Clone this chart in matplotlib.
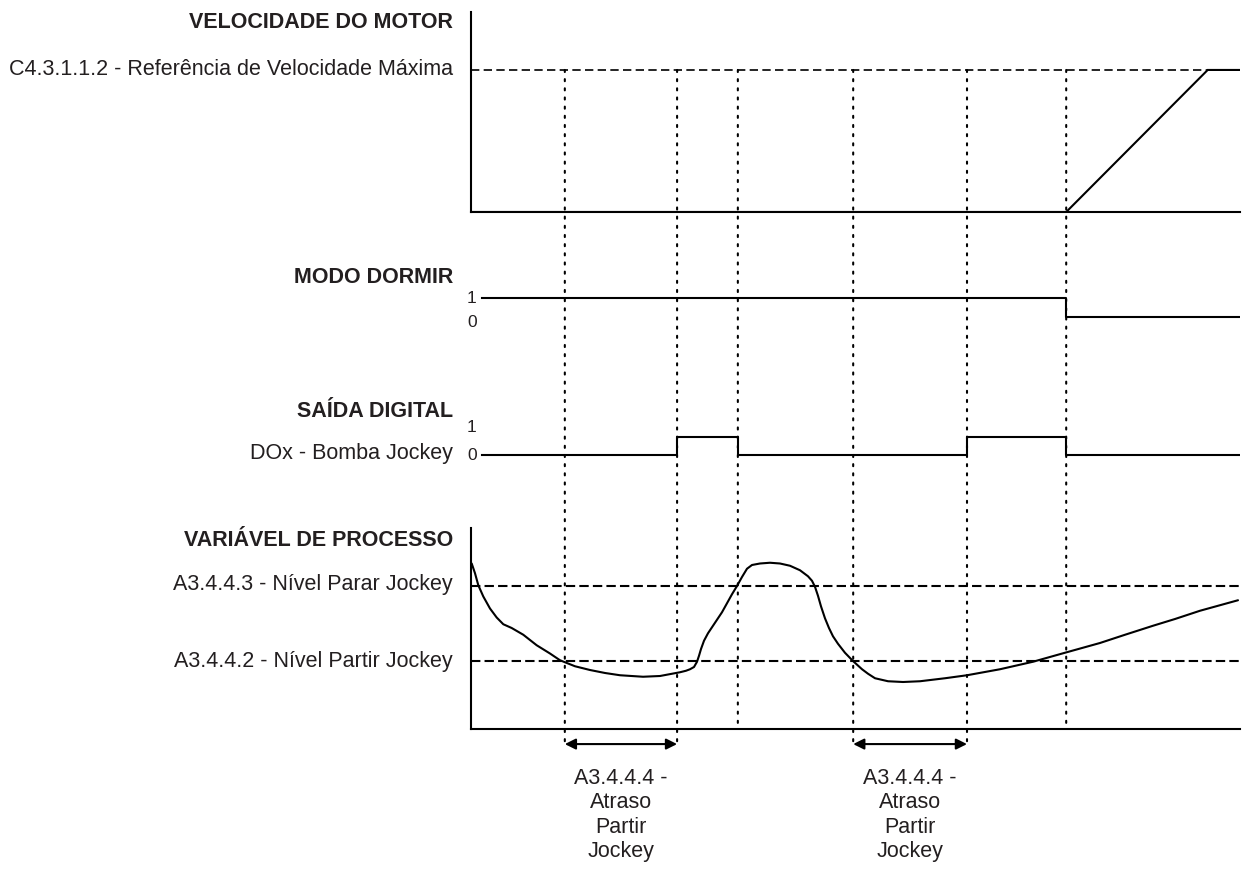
import matplotlib
matplotlib.use("Agg")
import matplotlib.pyplot as plt
from matplotlib.patches import ConnectionPatch

plt.rcParams['font.family'] = ['Liberation Sans', 'DejaVu Sans']

# ---- signals -------------------------------------------------------------
t_end = 100.0
event_times = [12.2, 26.8, 34.7, 49.7, 64.5, 77.4]
delay_windows = [(12.2, 26.8), (49.7, 64.5)]

motor_t = [0.0, 77.4, 95.8, 100.0]
motor_v = [0.0, 0.0, 1.0, 1.0]
motor_max_ref = 1.0

sleep_t = [1.4, 77.4, 100.0]
sleep_state = [1, 0, 0]

do_t = [1.4, 26.8, 34.7, 64.5, 77.4, 100.0]
do_state = [0, 1, 0, 1, 0, 0]

pv_t = [0.09, 0.52, 0.95, 1.60, 2.47, 3.34, 4.20, 5.29, 6.80, 8.54, 10.27,
        11.57, 13.52, 15.47, 17.43, 19.38, 22.37, 24.58, 26.14, 27.18, 27.96,
        28.48, 29.00, 29.39, 29.65, 29.91, 30.30, 30.82, 31.34, 31.99, 32.64,
        33.29, 33.94, 34.59, 35.24, 35.89, 36.54, 37.58, 38.88, 40.18, 41.48,
        42.78, 43.82, 44.34, 44.73, 45.12, 45.51, 46.03, 46.55, 47.07, 47.72,
        48.63, 49.67, 50.85, 51.63, 52.54, 54.23, 56.18, 58.39, 61.64, 64.50,
        68.79, 73.08, 77.24, 81.79, 85.05, 88.69, 91.55, 94.80, 99.74]
pv_v = [4.30, 4.17, 4.01, 3.86, 3.70, 3.58, 3.49, 3.44, 3.35, 3.21, 3.10,
        3.01, 2.93, 2.88, 2.84, 2.81, 2.79, 2.80, 2.83, 2.85, 2.87,
        2.89, 2.92, 2.99, 3.07, 3.16, 3.27, 3.37, 3.45, 3.55, 3.65,
        3.77, 3.89, 4.00, 4.12, 4.23, 4.28, 4.30, 4.31, 4.30, 4.27,
        4.21, 4.13, 4.07, 3.99, 3.87, 3.73, 3.57, 3.44, 3.33, 3.23,
        3.11, 3.00, 2.89, 2.83, 2.77, 2.73, 2.72, 2.73, 2.77, 2.81,
        2.89, 2.99, 3.11, 3.24, 3.35, 3.47, 3.56, 3.67, 3.81]
pv_stop_level = 4.0
pv_start_level = 3.0

# ---- texts ---------------------------------------------------------------
title_motor = "VELOCIDADE DO MOTOR"
label_motor_ref = "C4.3.1.1.2 - Referência de Velocidade Máxima"
title_sleep = "MODO DORMIR"
title_do = "SAÍDA DIGITAL"
label_do = "DOx - Bomba Jockey"
title_pv = "VARIÁVEL DE PROCESSO"
label_pv_stop = "A3.4.4.3 - Nível Parar Jockey"
label_pv_start = "A3.4.4.2 - Nível Partir Jockey"
delay_text = "A3.4.4.4 -\nAtraso\nPartir\nJockey"
state_labels = ["1", "0"]

# ---- layout --------------------------------------------------------------
W, H = 1246, 869
fig = plt.figure(figsize=(W / 100, H / 100), dpi=100)
fig.patch.set_facecolor("white")

X0, X1 = 471, 1240
TXT = "#231f20"
FS = 15.5
FS_SMALL = 12.5
LW = 1.5


def add_track(top, bottom, ylim):
    ax = fig.add_axes([X0 / W, 1 - bottom / H, (X1 - X0) / W, (bottom - top) / H])
    ax.set_xlim(0, t_end)
    ax.set_ylim(*ylim)
    ax.set_xticks([])
    ax.set_yticks([])
    for s in ax.spines.values():
        s.set_visible(False)
    ax.patch.set_alpha(0)
    return ax


ax_m = add_track(12, 212, (0.0, 1.408))
ax_s = add_track(280, 330, (-0.684, 1.947))
ax_d = add_track(420, 470, (-0.833, 1.944))
ax_p = add_track(528, 729, (2.0933, 4.7733))

for ax in (ax_m, ax_p):
    for side in ("left", "bottom"):
        ax.spines[side].set_visible(True)
        ax.spines[side].set_linewidth(LW)
        ax.spines[side].set_color("black")


def side_label(ax, text, y, dy=0, bold=False, coords="data"):
    ax.annotate(text, xy=(0, y), xycoords=("axes fraction", coords),
                xytext=(-18, dy), textcoords="offset pixels",
                ha="right", va="center", fontsize=FS, color=TXT,
                fontweight="bold" if bold else "normal", annotation_clip=False)


def state_label(ax, text, y, dy):
    ax.annotate(text, xy=(sleep_t[0], y), xycoords="data",
                xytext=(-5, dy), textcoords="offset pixels",
                ha="right", va="center", fontsize=FS_SMALL, color=TXT,
                annotation_clip=False)


# motor speed
ax_m.axhline(motor_max_ref, color="black", lw=1.2, ls=(0, (5, 2.6)))
ax_m.plot(motor_t, motor_v, color="black", lw=LW, solid_joinstyle="miter")
side_label(ax_m, title_motor, 1.0, dy=-11, bold=True, coords="axes fraction")
side_label(ax_m, label_motor_ref, motor_max_ref)

# sleep mode
ax_s.plot(sleep_t, sleep_state, drawstyle="steps-post", color="black", lw=LW)
side_label(ax_s, title_sleep, 1, dy=20.5, bold=True)
state_label(ax_s, state_labels[0], 1, -1)
state_label(ax_s, state_labels[1], 0, -5)

# digital output
ax_d.plot(do_t, do_state, drawstyle="steps-post", color="black", lw=LW)
side_label(ax_d, title_do, 1, dy=25, bold=True)
side_label(ax_d, label_do, 0, dy=2)
state_label(ax_d, state_labels[0], 1, 9)
state_label(ax_d, state_labels[1], 0, 0)

# process variable
for lvl in (pv_stop_level, pv_start_level):
    ax_p.axhline(lvl, color="black", lw=LW, ls=(0, (4.5, 2)))
ax_p.plot(pv_t, pv_v, color="black", lw=LW, solid_joinstyle="round",
          solid_capstyle="round")
side_label(ax_p, title_pv, 1.0, dy=-12, bold=True, coords="axes fraction")
side_label(ax_p, label_pv_stop, pv_stop_level, dy=1)
side_label(ax_p, label_pv_start, pv_start_level, dy=-1)

# event markers running through all tracks
arrow_y = -0.075
delay_edges = {t for w in delay_windows for t in w}
for t in event_times:
    y_end = -0.09 if t in delay_edges else 0.0
    con = ConnectionPatch(xyA=(t, motor_max_ref), coordsA=ax_m.transData,
                          xyB=(t, y_end), coordsB=ax_p.get_xaxis_transform(),
                          color="black", lw=1.5, ls=(0, (1, 3.4)))
    fig.add_artist(con)

for t0, t1 in delay_windows:
    ax_p.annotate("", xy=(t1, arrow_y), xytext=(t0, arrow_y),
                  xycoords=("data", "axes fraction"),
                  textcoords=("data", "axes fraction"),
                  arrowprops=dict(arrowstyle="<|-|>", color="black", lw=LW,
                                  mutation_scale=16, shrinkA=0, shrinkB=0),
                  annotation_clip=False)
    ax_p.annotate(delay_text, xy=((t0 + t1) / 2, 0), xycoords=("data", "axes fraction"),
                  xytext=(0, -86), textcoords="offset pixels",
                  ha="center", va="center", multialignment="center",
                  fontsize=FS, color=TXT, linespacing=1.2, annotation_clip=False)

fig.savefig("out.png", dpi=100, facecolor="white")
